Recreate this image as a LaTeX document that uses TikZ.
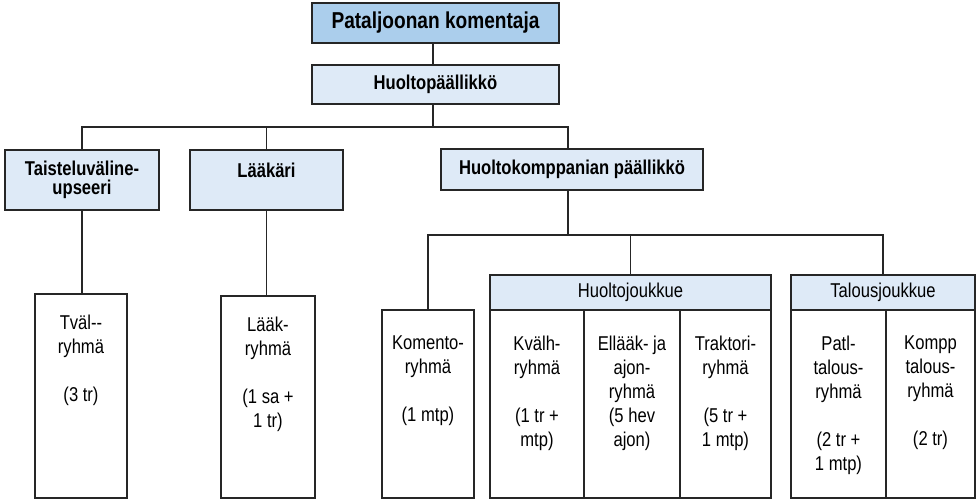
\documentclass[tikz,border=0pt]{standalone}
\usepackage{fontspec}
\setmainfont{Liberation Sans}[FakeStretch=0.83]
\usepackage{tikz}
\usetikzlibrary{positioning}
\definecolor{topblue}{RGB}{171,206,236}
\definecolor{paleblue}{RGB}{222,234,247}
\begin{document}
\begin{tikzpicture}[x=1pt, y=-1pt,
    blk/.style={draw=black!85, line width=1.2pt, inner sep=0pt, align=center},
    hd/.style={blk, fill=paleblue, font=\bfseries\fontsize{20}{19}\selectfont},
    grp/.style={blk, fill=paleblue, font=\fontsize{20}{24}\selectfont},
    col/.style={blk, fill=white},
    txt/.style={inner sep=0pt, align=center, font=\fontsize{20}{24}\selectfont},
    ln/.style={draw=black!85, line width=1.2pt}
  ]
  \useasboundingbox (0,0) rectangle (979,502);

  \node[hd, fill=topblue, minimum width=247, minimum height=40,
        font=\bfseries\fontsize{23}{27}\selectfont] (pk) at (435.5,23) {Pataljoonan komentaja};
  \node[hd, minimum width=247, minimum height=39] (hp) at (435.5,84.5) {Huoltopäällikkö};

  \node[hd, minimum width=154, minimum height=60] (tvu) at (82,180) {Taisteluväline-\\upseeri};
  \node[hd, minimum width=153, minimum height=60] (lk) at (266.5,180) {Lääkäri\\\mbox{}};
  \node[hd, minimum width=262, minimum height=41] (hkp) at (572,169.5) {Huoltokomppanian päällikkö};

  \node[col, minimum width=92, minimum height=204] (tval) at (81,396) {};
  \node[col, minimum width=94, minimum height=202] (laak) at (268,397) {};
  \node[txt, below=21pt of tval.north] (tvalt) {Tväl-{}-\\ryhmä\\[24pt](3 tr)};
  \node[txt, below=21pt of laak.north] (laakt) {Lääk-\\ryhmä\\[24pt](1 sa +\\1 tr)};

  \node[col, minimum width=92, minimum height=188] (kry) at (428,404) {};
  \node[col, minimum width=94, minimum height=188] (kva) at (537,404) {};
  \node[col, minimum width=96, minimum height=188] (ell) at (632,404) {};
  \node[col, minimum width=91, minimum height=188] (tra) at (725.5,404) {};
  \node[grp, minimum width=281, minimum height=35] (hj) at (630.5,292.5) {Huoltojoukkue};
  \node[col, minimum width=95, minimum height=188] (pat) at (838.5,404) {};
  \node[col, minimum width=89, minimum height=188] (kom) at (930.5,404) {};
  \node[grp, minimum width=184, minimum height=35] (tj) at (883,292.5) {Talousjoukkue};

  \node[txt, below=26pt of kry.north] (kryt) {Komento-\\ryhmä\\[24pt](1 mtp)};
  \node[txt, below=26pt of kva.north] (kvat) {Kvälh-\\ryhmä\\[24pt](1 tr +\\mtp)};
  \node[txt, below=26pt of ell.north] (ellt) {Ellääk- ja\\ajon-\\ryhmä\\(5 hev\\ajon)};
  \node[txt, below=26pt of tra.north] (trat) {Traktori-\\ryhmä\\[24pt](5 tr +\\1 mtp)};
  \node[txt, below=26pt of pat.north] (patt) {Patl-\\talous-\\ryhmä\\[24pt](2 tr +\\1 mtp)};
  \node[txt, below=26pt of kom.north] (komt) {Kompp\\talous-\\ryhmä\\[24pt](2 tr)};

  \coordinate (b1) at (433,127);
  \coordinate (b2) at (568,235);
  \draw[ln] (pk.south -| b1) -- (hp.north -| b1);
  \draw[ln] (hp.south -| b1) -- (b1);
  \draw[ln] (b1) -| (tvu.north);
  \draw[ln] (b1) -| (lk.north);
  \draw[ln] (b1) -| (b1 -| b2) -- (hkp.north -| b2);
  \draw[ln] (tvu.south) -- (tvu.south |- tval.north);
  \draw[ln] (lk.south) -- (lk.south |- laak.north);
  \draw[ln] (hkp.south -| b2) -- (b2);
  \draw[ln] (b2) -| (kry.north);
  \draw[ln] (b2) -| (hj.north);
  \draw[ln] (b2) -| (tj.north);
\end{tikzpicture}
\end{document}
